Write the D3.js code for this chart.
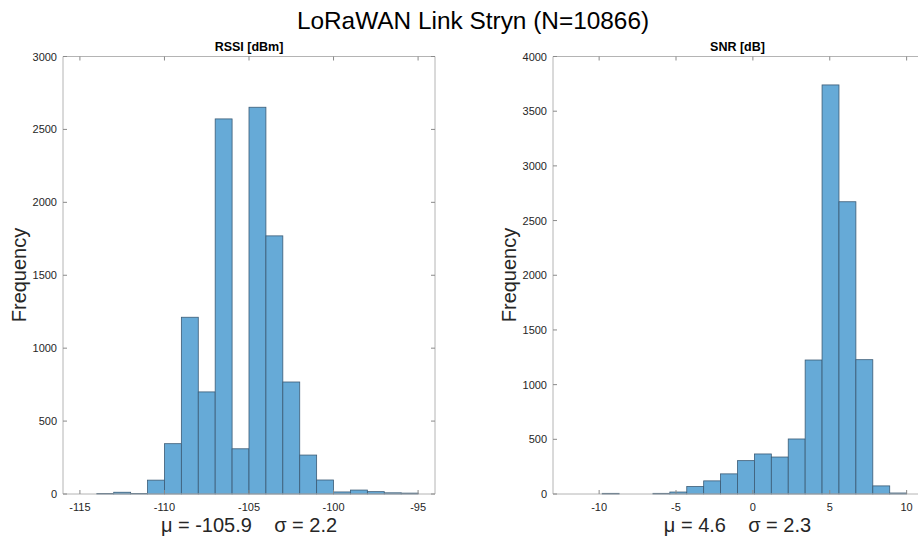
<!DOCTYPE html>
<html>
<head>
<meta charset="utf-8">
<script src="https://cdn.jsdelivr.net/npm/d3@7"></script>
<style>
  body { margin: 0; background: #fff; }
  text { font-family: "Liberation Sans", Arial, sans-serif; }
</style>
</head>
<body>
<svg id="chart" width="918" height="543"></svg>
<script>
// RSSI histogram (bin edges in dBm, counts per bin)
const rssiEdges = [-114, -113, -112, -111, -110, -109, -108, -107, -106, -105, -104,
                   -103, -102, -101, -100, -99, -98, -97, -96, -95];
const rssiCounts = [4, 12, 4, 95, 345, 1212, 700, 2572, 310, 2652, 1770,
                    768, 267, 96, 14, 27, 16, 8, 6];
const rssiXTicks = [-115, -110, -105, -100, -95];
const rssiYTicks = [0, 500, 1000, 1500, 2000, 2500, 3000];

// SNR histogram (bin edges in dB, counts per bin)
const snrEdges = [-9.8, -8.7, -7.6, -6.5, -5.4, -4.3, -3.2, -2.1, -1.0, 0.1,
                  1.2, 2.3, 3.4, 4.5, 5.6, 6.7, 7.8, 8.9, 10.0];
const snrCounts = [6, 0, 0, 6, 18, 68, 120, 184, 305, 366,
                   338, 503, 1225, 3740, 2672, 1228, 74, 9];
const snrXTicks = [-10, -5, 0, 5, 10];
const snrYTicks = [0, 500, 1000, 1500, 2000, 2500, 3000, 3500, 4000];

const svg = d3.select("#chart");

svg.append("text")
  .attr("x", 473)
  .attr("y", 29)
  .attr("text-anchor", "middle")
  .style("font-size", "24.4px")
  .style("fill", "#000")
  .text("LoRaWAN Link Stryn (N=10866)");

function drawHist(cfg) {
  const x = d3.scaleLinear().domain(cfg.xDomain).range([cfg.left, cfg.right]);
  const y = d3.scaleLinear().domain(cfg.yDomain).range([494, 56.5]);
  const g = svg.append("g");

  const bins = cfg.counts.map((c, i) => ({ x0: cfg.edges[i], x1: cfg.edges[i + 1], n: c }))
    .filter(d => d.n > 0);

  g.selectAll("rect.bar")
    .data(bins)
    .enter()
    .append("rect")
    .attr("class", "bar")
    .attr("x", d => x(d.x0))
    .attr("width", d => x(d.x1) - x(d.x0))
    .attr("y", d => y(d.n))
    .attr("height", d => y(0) - y(d.n))
    .attr("fill", "#66aad7")
    .attr("stroke", "#3b5b75")
    .attr("stroke-width", 0.8);

  // box
  const x0 = cfg.left, x1 = cfg.right, y0 = y(cfg.yDomain[0]), y1 = y(cfg.yDomain[1]);
  g.append("path")
    .attr("d", `M${x0},${y1}H${x1}V${y0}H${x0}Z`)
    .attr("fill", "none")
    .attr("stroke", "#b4b4b4")
    .attr("stroke-width", 1);

  // x ticks (inside, bottom and top)
  cfg.xTicks.forEach(t => {
    const px = x(t);
    g.append("line").attr("x1", px).attr("x2", px).attr("y1", y0).attr("y2", y0 - 4)
      .attr("stroke", "#8a8a8a");
    g.append("line").attr("x1", px).attr("x2", px).attr("y1", y1).attr("y2", y1 + 4)
      .attr("stroke", "#8a8a8a");
    g.append("text")
      .attr("x", px)
      .attr("y", y0 + 17)
      .attr("text-anchor", "middle")
      .style("font-size", "11px")
      .style("fill", "#262626")
      .text(t);
  });

  // y ticks (inside, left and right)
  cfg.yTicks.forEach(t => {
    const py = y(t);
    g.append("line").attr("x1", x0).attr("x2", x0 + 4).attr("y1", py).attr("y2", py)
      .attr("stroke", "#8a8a8a");
    g.append("line").attr("x1", x1).attr("x2", x1 - 4).attr("y1", py).attr("y2", py)
      .attr("stroke", "#8a8a8a");
    g.append("text")
      .attr("x", x0 - 6)
      .attr("y", py + 4)
      .attr("text-anchor", "end")
      .style("font-size", "11px")
      .style("fill", "#262626")
      .text(t);
  });

  const cx = (cfg.left + cfg.right) / 2;

  // subplot title
  g.append("text")
    .attr("x", cx)
    .attr("y", 51)
    .attr("text-anchor", "middle")
    .style("font-size", "12.5px")
    .style("font-weight", "bold")
    .style("fill", "#000")
    .text(cfg.title);

  // y-axis label
  g.append("text")
    .attr("text-anchor", "middle")
    .attr("transform", `translate(${cfg.yLabelX},275) rotate(-90)`)
    .style("font-size", "20px")
    .style("fill", "#262626")
    .text("Frequency");

  // stats line
  g.append("text")
    .attr("x", cx)
    .attr("y", 532)
    .attr("text-anchor", "middle")
    .style("font-size", "20px")
    .style("fill", "#262626")
    .style("white-space", "pre")
    .attr("xml:space", "preserve")
    .text(cfg.stats);
}

drawHist({
  edges: rssiEdges, counts: rssiCounts,
  xDomain: [-116, -94], yDomain: [0, 3000],
  left: 63, right: 435,
  xTicks: rssiXTicks, yTicks: rssiYTicks,
  title: "RSSI [dBm]", yLabelX: 26,
  stats: "\u03bc = -105.9    \u03c3 = 2.2"
});

drawHist({
  edges: snrEdges, counts: snrCounts,
  xDomain: [-13, 11], yDomain: [0, 4000],
  left: 553, right: 922,
  xTicks: snrXTicks, yTicks: snrYTicks,
  title: "SNR [dB]", yLabelX: 516,
  stats: "\u03bc = 4.6    \u03c3 = 2.3"
});
</script>
</body>
</html>
